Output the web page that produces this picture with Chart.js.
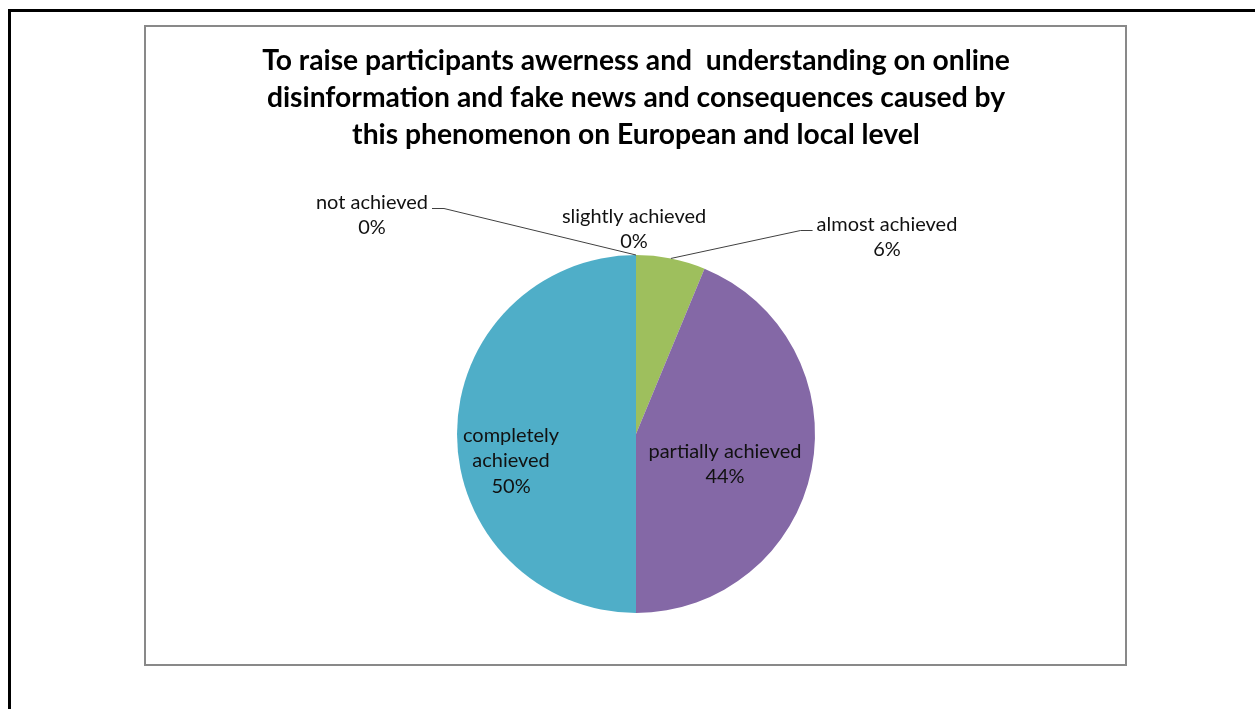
<!DOCTYPE html>
<html>
<head>
<meta charset="utf-8">
<script src="https://cdn.jsdelivr.net/npm/chart.js@4/dist/chart.umd.min.js"></script>
<style>
  html, body { margin: 0; padding: 0; background: #fff; }
  #page { position: relative; width: 1255px; height: 709px; overflow: hidden; }
  .rule { position: absolute; background: #000; }
  #frame { position: absolute; left: 144px; top: 25px; width: 983px; height: 641px;
           border: 2px solid #898989; box-sizing: border-box; }
  #wrap { position: absolute; left: 0; top: 0; width: 1255px; height: 709px; }
</style>
</head>
<body>
<div id="page">
  <div class="rule" style="left:8px;top:9px;width:1247px;height:3px"></div>
  <div class="rule" style="left:8px;top:9px;width:3px;height:700px"></div>
  <div id="frame"></div>
  <div id="wrap"><canvas id="chart"></canvas></div>
</div>
<script>
// Survey results: how far the objective was achieved (number of participants)
const titleLines = [
  'To raise participants awerness and  understanding on online',
  'disinformation and fake news and consequences caused by',
  'this phenomenon on European and local level'
];
const categories = ['not achieved', 'slightly achieved', 'almost achieved', 'partially achieved', 'completely achieved'];
const responses = [0, 0, 1, 7, 8];
const sliceColors = ['#4f81bd', '#c0504d', '#9ebf5d', '#8468a6', '#4faec8'];

// Font sizes chosen so the text runs to the intended widths
function fitSize(text, weight, family, targetWidth) {
  const c = document.createElement('canvas').getContext('2d');
  c.font = weight + ' 100px ' + family;
  return 100 * targetWidth / c.measureText(text).width;
}
const FONT = 'Lato, "Open Sans", sans-serif';
const titleSize = fitSize(titleLines[0], 700, FONT, 748);
const labelSize = fitSize('partially achieved', 400, FONT, 153);
const labelLine = 25.5;

// Label block placement relative to the pie centre, in units of the radius
const labelLayout = [
  { dx: -1.475, dy: -1.223, leader: true },
  { dx: -0.011, dy: -1.145 },
  { dx: 1.402, dy: -1.101, leader: true },
  { dx: 0.497, dy: 0.168 },
  { dx: -0.698, dy: 0.151, maxWidth: 110 }
];

function wrapText(ctx, text, maxWidth) {
  if (!maxWidth) return [text];
  const words = text.split(' ');
  const lines = [];
  let cur = '';
  for (const w of words) {
    const test = cur ? cur + ' ' + w : w;
    if (cur && ctx.measureText(test).width > maxWidth) { lines.push(cur); cur = w; }
    else cur = test;
  }
  if (cur) lines.push(cur);
  return lines;
}

const sliceLabels = {
  id: 'sliceLabels',
  afterDatasetsDraw(chart) {
    const ctx = chart.ctx;
    const meta = chart.getDatasetMeta(0);
    const total = responses.reduce((a, b) => a + b, 0);
    ctx.save();
    ctx.font = '400 ' + labelSize + 'px ' + FONT;
    ctx.textAlign = 'center';
    ctx.textBaseline = 'middle';
    meta.data.forEach((arc, i) => {
      const p = arc.getProps(['x', 'y', 'startAngle', 'endAngle', 'outerRadius'], true);
      const lay = labelLayout[i];
      const lines = wrapText(ctx, categories[i], lay.maxWidth);
      lines.push(Math.round(responses[i] / total * 100) + '%');
      const cx = p.x + lay.dx * p.outerRadius;
      const cy = p.y + lay.dy * p.outerRadius;
      const top = cy - (lines.length - 1) * labelLine / 2;
      ctx.fillStyle = '#111';
      lines.forEach((t, k) => ctx.fillText(t, cx, top + k * labelLine));
      if (lay.leader) {
        const mid = (p.startAngle + p.endAngle) / 2;
        const ax = p.x + p.outerRadius * Math.cos(mid);
        const ay = p.y + p.outerRadius * Math.sin(mid);
        const w = ctx.measureText(lines[0]).width;
        const side = cx < p.x ? 1 : -1;
        const sx = cx + side * (w / 2 + 4);
        const sy = Math.round(top + 6) + 0.5;
        ctx.beginPath();
        ctx.moveTo(sx, sy);
        ctx.lineTo(sx + side * 12, sy);
        ctx.lineTo(ax, ay);
        ctx.strokeStyle = '#404040';
        ctx.lineWidth = 1;
        ctx.stroke();
      }
    });
    ctx.restore();
  }
};

new Chart(document.getElementById('chart'), {
  type: 'pie',
  data: {
    labels: categories,
    datasets: [{
      data: responses,
      backgroundColor: sliceColors,
      borderWidth: 0,
      radius: 179
    }]
  },
  options: {
    responsive: true,
    maintainAspectRatio: false,
    animation: false,
    layout: { padding: { left: 17, right: 0, top: 0, bottom: 41 } },
    plugins: {
      legend: { display: false },
      tooltip: { enabled: false },
      title: {
        display: true,
        text: titleLines,
        color: '#000',
        font: { family: FONT, weight: 'bold', size: titleSize, lineHeight: '37px' },
        padding: { top: 42.5, bottom: 46.5 }
      }
    }
  },
  plugins: [sliceLabels]
});
</script>
</body>
</html>
